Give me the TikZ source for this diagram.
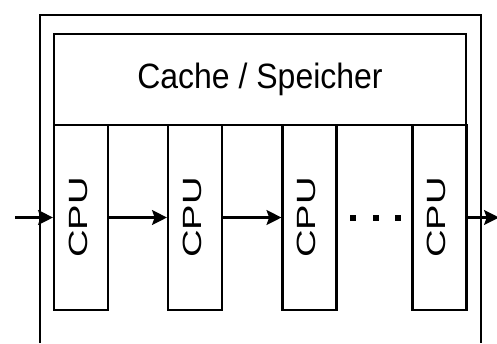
\documentclass[tikz,border=0pt]{standalone}
\usepackage{fontspec}
\usepackage{graphicx}
\setmainfont{Liberation Sans}
\usetikzlibrary{arrows.meta}

\begin{document}
\begin{tikzpicture}[x=0.02cm, y=-0.02cm, line width=1.2pt,
		cpu/.style={draw, minimum width=1.08cm, minimum height=3.7cm, inner sep=0pt,
			label={[xshift=-0.06cm, rotate=90, font=\fontsize{15}{16}\selectfont]center:\scalebox{1.45}[1]{CPU}}},
		arr/.style={-{Stealth[length=8.5pt, width=8.5pt, inset=1.5pt]}}]
	\path[use as bounding box, clip] (0,0) rectangle (497,343);

	\draw (40,343) |- (481,15) -- (481,343);

	\node[draw, minimum width=8.24cm, minimum height=1.82cm, inner sep=0pt] (cache) at (260,79.5)
		{\fontsize{18.2}{20}\selectfont\scalebox{1}[1.1]{Cache / Speicher}};

	\node[cpu] (cpu1) at (81,217.5) {};
	\node[cpu] (cpu2) at (195,217.5) {};
	\node[cpu] (cpu3) at (309.5,217.5) {};
	\node[cpu] (cpu4) at (439.5,217.5) {};

	\coordinate (in) at (15,217.5);
	\coordinate (out) at (499,217.5);

	\draw[arr] (in) -- (cpu1);
	\draw[arr] (cpu1) -- (cpu2);
	\draw[arr] (cpu2) -- (cpu3);
	\draw[arr] (cpu4) -- (out);

	\foreach \x in {353,375.5,398}
		\fill (\x,217.5) +(-3,-3) rectangle +(3,3);
\end{tikzpicture}
\end{document}
